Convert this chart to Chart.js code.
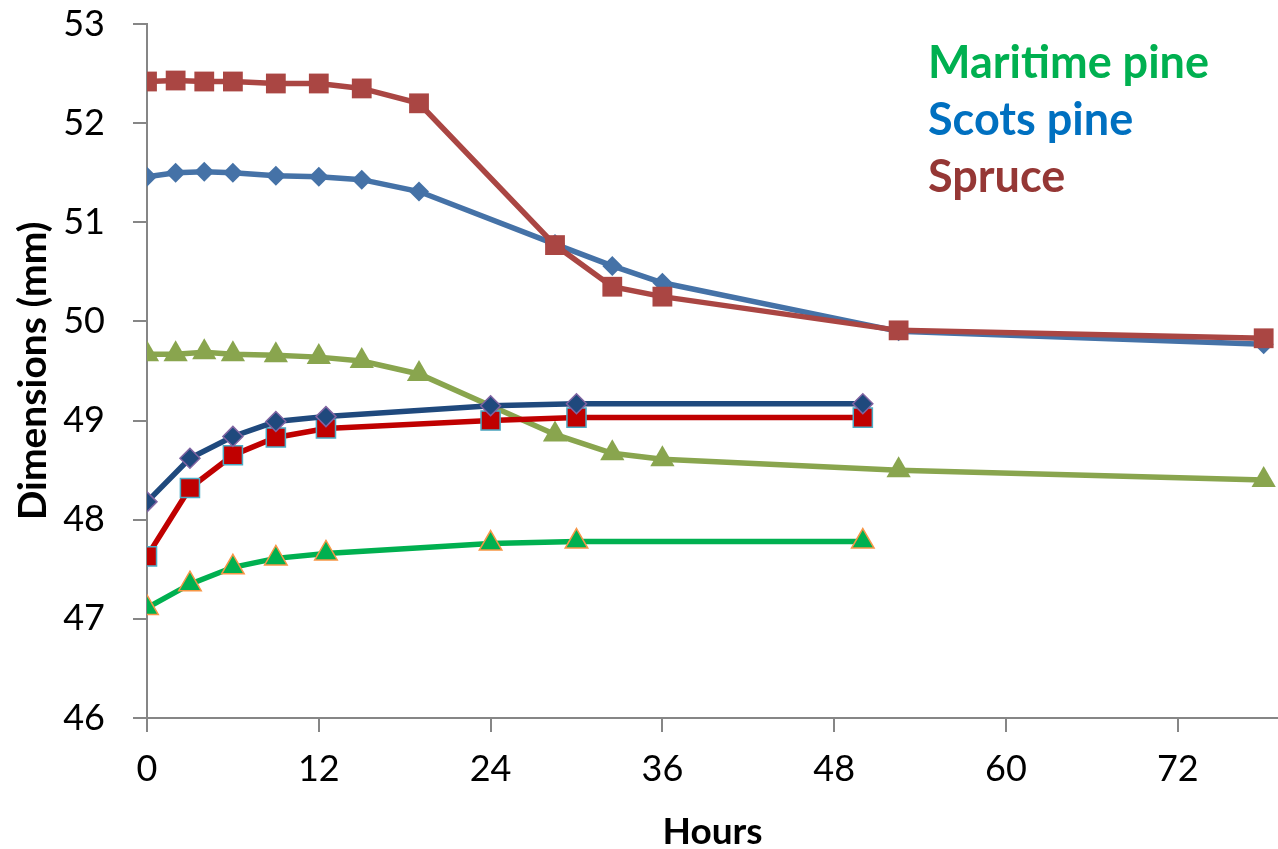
<!DOCTYPE html>
<html>
<head>
<meta charset="utf-8">
<script src="https://cdn.jsdelivr.net/npm/chart.js@4"></script>
<style>
  html, body { margin: 0; padding: 0; background: #fff; }
  #wrap { position: relative; width: 1278px; height: 849px; overflow: hidden; }
  #c { position: absolute; left: 0; top: 0; }
  .key { position: absolute; left: 928px; font-family: Lato, sans-serif; font-weight: bold; font-size: 45px; line-height: 1; white-space: nowrap; }
</style>
</head>
<body>
<div id="wrap">
  <canvas id="c" width="1278" height="849"></canvas>
  <div class="key" style="top:39px;color:#00B050">Maritime pine</div>
  <div class="key" style="top:96px;color:#0070C0">Scots pine</div>
  <div class="key" style="top:153px;color:#953735">Spruce</div>
</div>
<script>
// Drying runs (hours) and specimen dimensions in mm
const dryHours = [0, 2, 4, 6, 9, 12, 15, 19, 28.5, 32.5, 36, 52.5, 78];
const spruceDry = [52.42, 52.43, 52.42, 52.42, 52.40, 52.40, 52.35, 52.20, 50.77, 50.35, 50.25, 49.91, 49.83];
const scotsDry = [51.46, 51.50, 51.51, 51.50, 51.47, 51.46, 51.43, 51.31, 50.78, 50.56, 50.39, 49.90, 49.77];
const maritimeDry = [49.67, 49.67, 49.69, 49.67, 49.66, 49.64, 49.60, 49.47, 48.86, 48.67, 48.61, 48.50, 48.40];

// Wetting runs (hours) and specimen dimensions in mm
const wetHours = [0, 3, 6, 9, 12.5, 24, 30, 50];
const scotsWet = [48.18, 48.62, 48.84, 48.99, 49.04, 49.15, 49.17, 49.17];
const spruceWet = [47.63, 48.32, 48.65, 48.83, 48.92, 49.00, 49.03, 49.03];
const maritimeWet = [47.11, 47.35, 47.52, 47.61, 47.66, 47.76, 47.78, 47.78];

const xTicks = [0, 12, 24, 36, 48, 60, 72];
const yTicks = [46, 47, 48, 49, 50, 51, 52, 53];

const pts = (xs, ys) => xs.map((x, i) => ({ x: x, y: ys[i] }));

function series(label, xs, ys, line, fill, border, style, radius, order) {
  return {
    label: label,
    data: pts(xs, ys),
    showLine: true,
    borderColor: line,
    borderWidth: 5.5,
    pointStyle: style,
    pointRadius: radius,
    pointHoverRadius: radius,
    pointBackgroundColor: fill,
    pointBorderColor: border,
    pointBorderWidth: border === fill ? 0 : 1.5,
    tension: 0,
    order: order
  };
}

const axisGrey = '#868686';
const tickFont = { family: 'Lato, sans-serif', size: 36 };

new Chart(document.getElementById('c'), {
  type: 'scatter',
  data: {
    datasets: [
      series('Spruce', dryHours, spruceDry, '#AA4643', '#AA4643', '#AA4643', 'rect', 14, 1),
      series('Scots pine', dryHours, scotsDry, '#4572A7', '#4572A7', '#4572A7', 'rectRot', 10, 2),
      series('Scots pine (wetting)', wetHours, scotsWet, '#1F497D', '#1F497D', '#8064A2', 'rectRot', 10, 3),
      series('Spruce (wetting)', wetHours, spruceWet, '#C00000', '#C00000', '#4BACC6', 'rect', 13.5, 4),
      series('Maritime pine (wetting)', wetHours, maritimeWet, '#00B050', '#00B050', '#F79646', 'triangle', 13, 5),
      series('Maritime pine', dryHours, maritimeDry, '#89A54E', '#89A54E', '#89A54E', 'triangle', 14, 6)
    ]
  },
  options: {
    responsive: false,
    animation: false,
    layout: { autoPadding: false, padding: { left: 10, right: 0, top: 24, bottom: 0 } },
    plugins: { legend: { display: false }, tooltip: { enabled: false } },
    scales: {
      x: {
        type: 'linear',
        min: 0,
        max: 79,
        afterBuildTicks: (axis) => { axis.ticks = xTicks.map(v => ({ value: v })); },
        afterFit: (axis) => { axis.height = 131; axis.paddingLeft = 0; axis.paddingRight = 0; },
        ticks: { font: tickFont, color: '#000', padding: 16, maxRotation: 0 },
        grid: { display: true, drawOnChartArea: false, drawTicks: true, tickLength: 14, color: axisGrey, lineWidth: 2 },
        border: { display: true, color: axisGrey, width: 2 },
        title: {
          display: true, text: 'Hours', color: '#000',
          font: { family: 'Lato, sans-serif', size: 37, weight: 'bold', lineHeight: 0.9 },
          padding: { top: 25, bottom: 0 }
        }
      },
      y: {
        type: 'linear',
        min: 46,
        max: 53,
        afterBuildTicks: (axis) => { axis.ticks = yTicks.map(v => ({ value: v })); },
        afterFit: (axis) => { axis.width = 137; axis.paddingTop = 0; axis.paddingBottom = 0; },
        ticks: { font: tickFont, color: '#000', padding: 28 },
        grid: { display: true, drawOnChartArea: false, drawTicks: true, tickLength: 14, color: axisGrey, lineWidth: 2 },
        border: { display: true, color: axisGrey, width: 2 },
        title: {
          display: true, text: 'Dimensions (mm)', color: '#000',
          font: { family: 'Lato, sans-serif', size: 39, weight: 'bold' },
          padding: { top: 0, bottom: 10 }
        }
      }
    }
  }
});
</script>
</body>
</html>
